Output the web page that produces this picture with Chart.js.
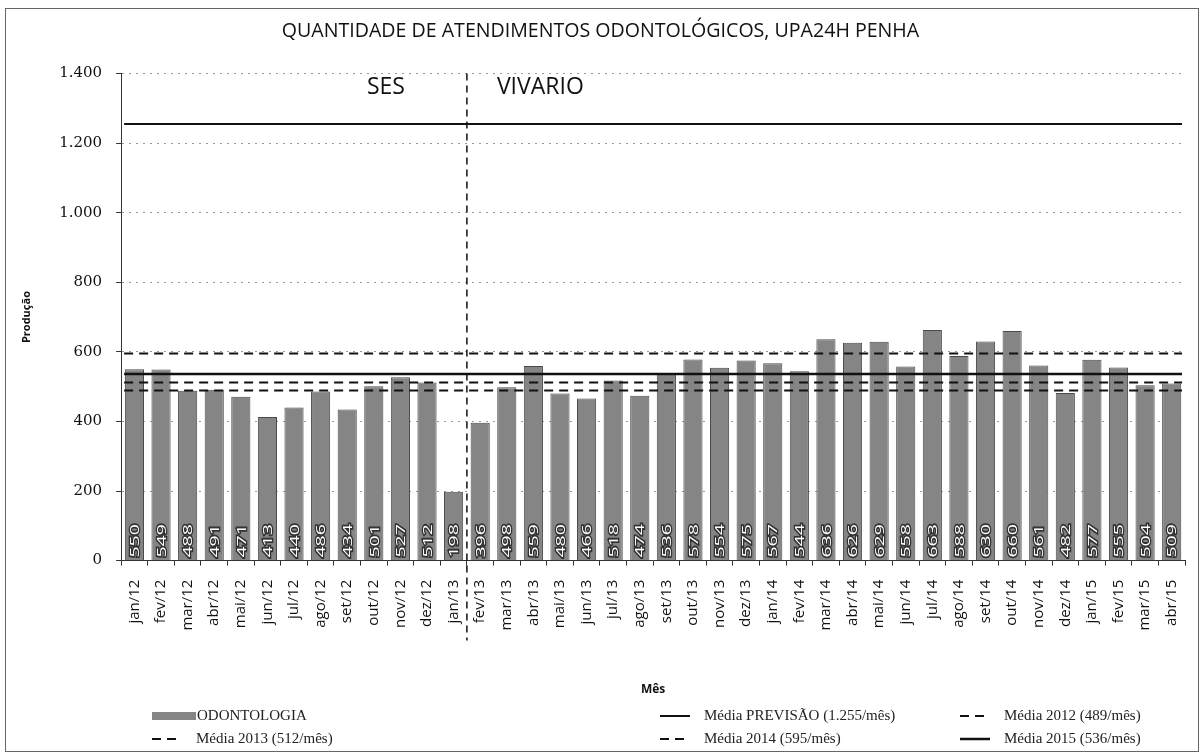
<!DOCTYPE html>
<html>
<head>
<meta charset="utf-8">
<script src="https://cdn.jsdelivr.net/npm/chart.js@4.4.1/dist/chart.umd.min.js"></script>
<style>
  html, body { margin: 0; padding: 0; background: #fff; }
  #wrap { position: relative; width: 1203px; height: 756px; }
</style>
</head>
<body>
<div id="wrap"><canvas id="myChart" width="1203" height="756"></canvas></div>
<script>
// Dados do gráfico
const meses = [
  'jan/12','fev/12','mar/12','abr/12','mai/12','jun/12','jul/12','ago/12','set/12','out/12','nov/12','dez/12',
  'jan/13','fev/13','mar/13','abr/13','mai/13','jun/13','jul/13','ago/13','set/13','out/13','nov/13','dez/13',
  'jan/14','fev/14','mar/14','abr/14','mai/14','jun/14','jul/14','ago/14','set/14','out/14','nov/14','dez/14',
  'jan/15','fev/15','mar/15','abr/15'
];
const odontologia = [
  550, 549, 488, 491, 471, 413, 440, 486, 434, 501, 527, 512,
  198, 396, 498, 559, 480, 466, 518, 474, 536, 578, 554, 575,
  567, 544, 636, 626, 629, 558, 663, 588, 630, 660, 561, 482,
  577, 555, 504, 509
];
const yTicks = [0, 200, 400, 600, 800, 1000, 1200, 1400];

// Médias (linhas horizontais)
const mediaNomes = ['Média PREVISÃO (1.255/mês)', 'Média 2012 (489/mês)', 'Média 2013 (512/mês)', 'Média 2014 (595/mês)', 'Média 2015 (536/mês)'];
const mediaValores = [1255, 489, 512, 595, 536];
const mediaTracos = [[], [9, 6], [9, 6], [9, 6], []];
const mediaLarguras = [2, 2, 2, 2, 2.5];

// Divisão SES / VIVARIO (entre jan/13 e fev/13)
const indiceDivisao = 12;

const fmt = v => v.toLocaleString('pt-BR');

// linhas de média + divisória + textos SES/VIVARIO
const linhasPlugin = {
  id: 'linhas',
  afterDatasetsDraw(chart) {
    const ctx = chart.ctx;
    const x = chart.scales.x, y = chart.scales.y;
    const area = chart.chartArea;
    ctx.save();
    ctx.strokeStyle = '#111';
    mediaValores.forEach((v, i) => {
      const py = y.getPixelForValue(v);
      ctx.lineWidth = mediaLarguras[i];
      ctx.setLineDash(mediaTracos[i]);
      ctx.beginPath();
      ctx.moveTo(area.left + 3, py);
      ctx.lineTo(area.right - 3, py);
      ctx.stroke();
    });
    // divisória vertical
    const xd = (x.getPixelForValue(indiceDivisao) + x.getPixelForValue(indiceDivisao + 1)) / 2;
    ctx.lineWidth = 1.5;
    ctx.setLineDash([7, 5]);
    ctx.beginPath();
    ctx.moveTo(xd, area.top);
    ctx.lineTo(xd, area.bottom + 80);
    ctx.stroke();
    ctx.setLineDash([]);
    ctx.fillStyle = '#111';
    ctx.font = '23px "Open Sans", sans-serif';
    ctx.textBaseline = 'middle';
    ctx.textAlign = 'right';
    ctx.fillText('SES', xd - 62, area.top + 14);
    ctx.textAlign = 'left';
    ctx.fillText('VIVARIO', xd + 30, area.top + 14);

    // rótulos das barras
    const meta = chart.getDatasetMeta(0);
    ctx.font = '13px "Open Sans", sans-serif';
    ctx.textAlign = 'left';
    ctx.textBaseline = 'middle';
    meta.data.forEach((bar, i) => {
      ctx.save();
      ctx.translate(bar.x + 1, area.bottom - 3);
      ctx.rotate(-Math.PI / 2);
      ctx.scale(1.5, 1);
      ctx.lineWidth = 2.5;
      ctx.strokeStyle = '#333';
      ctx.strokeText(odontologia[i], 0, 0);
      ctx.fillStyle = '#fff';
      ctx.fillText(odontologia[i], 0, 0);
      ctx.restore();
    });
    ctx.restore();
  }
};

// legenda e moldura
const legendaPlugin = {
  id: 'legenda',
  afterDraw(chart) {
    const ctx = chart.ctx;
    ctx.save();
    ctx.strokeStyle = '#666';
    ctx.lineWidth = 1;
    ctx.strokeRect(5.5, 8.5, 1193, 743);

    const itens = [
      { tipo: 'barra', texto: 'ODONTOLOGIA', x: 152, y: 716 },
      { tipo: 0, texto: mediaNomes[0], x: 660, y: 716 },
      { tipo: 1, texto: mediaNomes[1], x: 960, y: 716 },
      { tipo: 2, texto: mediaNomes[2], x: 152, y: 739 },
      { tipo: 3, texto: mediaNomes[3], x: 660, y: 739 },
      { tipo: 4, texto: mediaNomes[4], x: 960, y: 739 }
    ];
    ctx.font = '15px "Liberation Serif", serif';
    ctx.textBaseline = 'middle';
    ctx.fillStyle = '#222';
    itens.forEach(it => {
      if (it.tipo === 'barra') {
        ctx.fillStyle = '#858585';
        ctx.fillRect(it.x, it.y - 4, 44, 8);
        ctx.fillStyle = '#222';
        ctx.fillText(it.texto, it.x + 45, it.y);
      } else {
        ctx.strokeStyle = '#111';
        ctx.lineWidth = mediaLarguras[it.tipo];
        ctx.setLineDash(mediaTracos[it.tipo]);
        ctx.beginPath();
        ctx.moveTo(it.x, it.y);
        ctx.lineTo(it.x + 30, it.y);
        ctx.stroke();
        ctx.setLineDash([]);
        ctx.fillText(it.texto, it.x + 44, it.y);
      }
    });
    ctx.restore();
  }
};

const ctx = document.getElementById('myChart').getContext('2d');
new Chart(ctx, {
  type: 'bar',
  data: {
    labels: meses,
    datasets: [{
      label: 'ODONTOLOGIA',
      data: odontologia,
      backgroundColor: '#858585',
      borderColor: '#4a4a4a',
      borderWidth: 1,
      barPercentage: 0.72,
      categoryPercentage: 1
    }]
  },
  options: {
    responsive: false,
    animation: false,
    layout: { padding: { top: 6, right: 18, bottom: 55, left: 16 } },
    plugins: {
      legend: { display: false },
      tooltip: { enabled: false },
      title: {
        display: true,
        text: 'QUANTIDADE DE ATENDIMENTOS ODONTOLÓGICOS, UPA24H PENHA',
        color: '#111',
        font: { family: '"Open Sans", sans-serif', size: 19.6, weight: 'normal' },
        padding: { top: 14, bottom: 30 }
      }
    },
    scales: {
      x: {
        afterFit: scale => { scale.paddingLeft = 0; scale.paddingRight = 0; },
        grid: { display: true, drawOnChartArea: false, drawTicks: true, tickLength: 5, color: '#333' },
        border: { color: '#333' },
        ticks: {
          maxRotation: 90, minRotation: 90, autoSkip: false, padding: 14,
          color: '#111', font: { family: '"Open Sans", sans-serif', size: 15 }
        },
        title: {
          display: true, text: 'Mês', color: '#111',
          font: { family: '"Open Sans", sans-serif', size: 12, weight: 'bold' },
          padding: { top: 38, bottom: 4 }
        }
      },
      y: {
        min: 0, max: 1400,
        afterBuildTicks: axis => { axis.ticks = yTicks.map(v => ({ value: v })); },
        grid: { color: '#9a9a9a', tickLength: 5, tickColor: '#333' },
        border: { color: '#333', dash: [2, 5] },
        ticks: {
          callback: v => fmt(v),
          color: '#111', padding: 14,
          font: { family: '"DejaVu Serif", serif', size: 15 }
        },
        title: {
          display: true, text: 'Produção', color: '#111',
          font: { family: '"Open Sans", sans-serif', size: 11, weight: 'bold' },
          padding: { top: 4, bottom: 12 }
        }
      }
    }
  },
  plugins: [linhasPlugin, legendaPlugin]
});
</script>
</body>
</html>
